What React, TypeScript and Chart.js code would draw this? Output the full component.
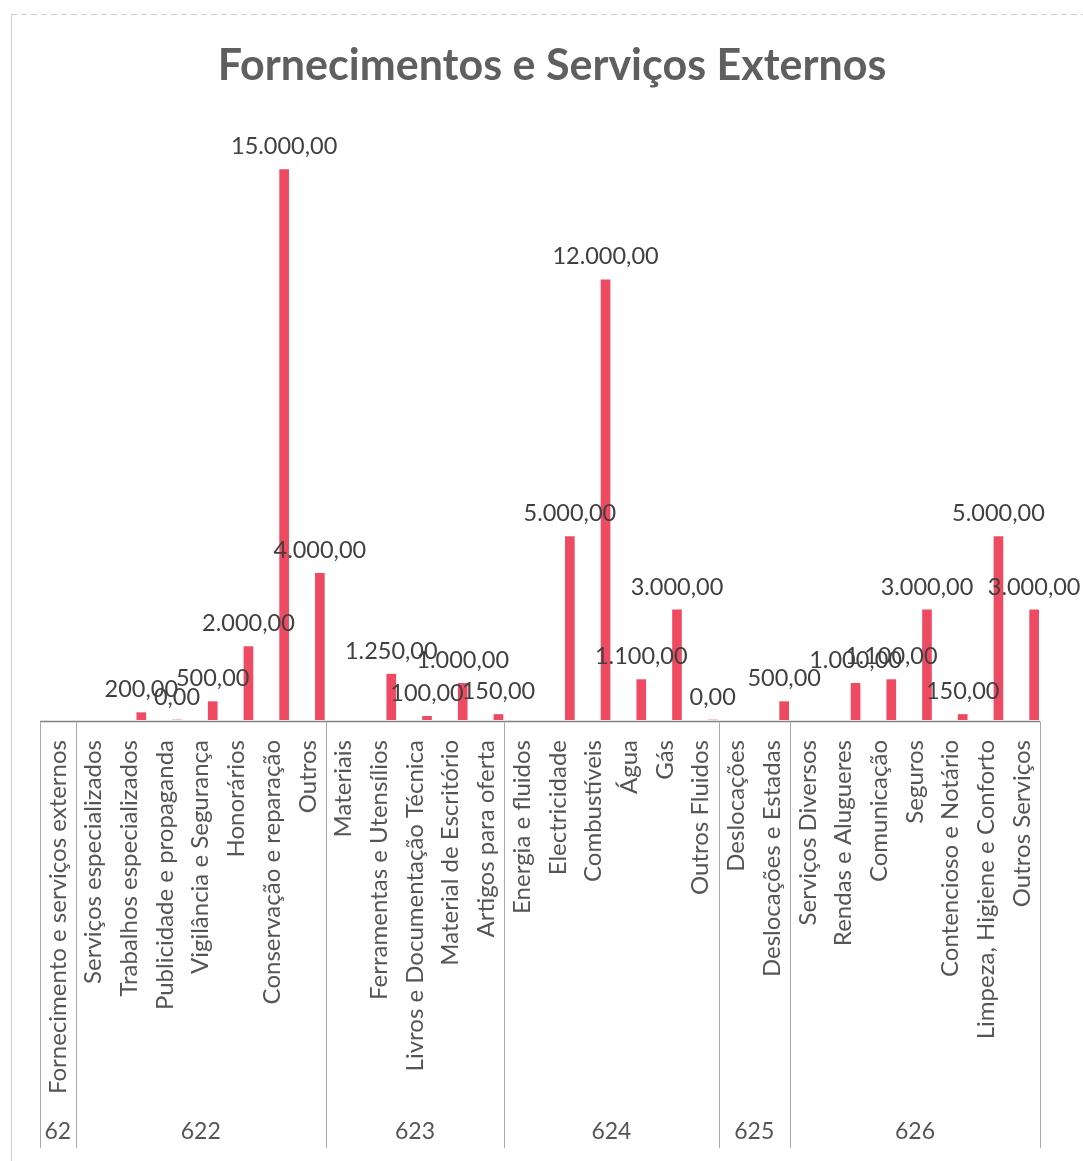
import React, { useEffect, useRef } from 'react';
import { Chart, registerables } from 'chart.js';

Chart.register(...registerables);

const categories = [
  'Fornecimento e serviços externos',
  'Serviços especializados',
  'Trabalhos especializados',
  'Publicidade e propaganda',
  'Vigilância e Segurança',
  'Honorários',
  'Conservação e reparação',
  'Outros',
  'Materiais',
  'Ferramentas e Utensílios',
  'Livros e Documentação Técnica',
  'Material de Escritório',
  'Artigos para oferta',
  'Energia e fluidos',
  'Electricidade',
  'Combustíveis',
  'Água',
  'Gás',
  'Outros Fluidos',
  'Deslocações',
  'Deslocações e Estadas',
  'Serviços Diversos',
  'Rendas e Alugueres',
  'Comunicação',
  'Seguros',
  'Contencioso e Notário',
  'Limpeza, Higiene e Conforto',
  'Outros Serviços',
];

const values: (number | null)[] = [
  null, null, 200, 0, 500, 2000, 15000, 4000,
  null, 1250, 100, 1000, 150,
  null, 5000, 12000, 1100, 3000, 0,
  null, 500,
  null, 1000, 1100, 3000, 150, 5000, 3000,
];

const groupLabels = ['62', '622', '623', '624', '625', '626'];
const groupSizes = [1, 7, 5, 6, 2, 7];

const titleText = 'Fornecimentos e Serviços Externos';

const FONT = 'Lato, "Open Sans", sans-serif';
const TEXT = '#555555';

function fmt(v: number): string {
  const [i, d] = v.toFixed(2).split('.');
  return i.replace(/\B(?=(\d{3})+(?!\d))/g, '.') + ',' + d;
}

const decorPlugin = {
  id: 'decor',
  beforeDraw(chart: any) {
    const ctx = chart.ctx;
    ctx.save();
    ctx.fillStyle = '#ffffff';
    ctx.fillRect(0, 0, chart.width, chart.height);
    ctx.strokeStyle = '#cfcfcf';
    ctx.lineWidth = 1;
    ctx.setLineDash([6, 4]);
    ctx.beginPath();
    ctx.moveTo(11, 14.5);
    ctx.lineTo(chart.width, 14.5);
    ctx.stroke();
    ctx.setLineDash([]);
    ctx.beginPath();
    ctx.moveTo(11.5, 14);
    ctx.lineTo(11.5, chart.height);
    ctx.stroke();
    ctx.restore();
  },
  afterDraw(chart: any) {
    const ctx = chart.ctx;
    const area = chart.chartArea;
    const xs = chart.scales.x;
    const off = -12;
    const w = xs.getPixelForValue(1) - xs.getPixelForValue(0);
    const leftEdge = xs.getPixelForValue(0) - w / 2 + off;
    const n = categories.length;
    const axisY = area.bottom + 1.5;
    const bottomY = 1148;

    ctx.save();
    // title
    ctx.fillStyle = '#5f5f5f';
    ctx.font = `bold 43px ${FONT}`;
    ctx.textAlign = 'center';
    ctx.textBaseline = 'middle';
    ctx.fillText(titleText, (area.left + area.right) / 2, 66);

    // axis line
    ctx.strokeStyle = '#808080';
    ctx.lineWidth = 1.5;
    ctx.beginPath();
    ctx.moveTo(leftEdge, axisY);
    ctx.lineTo(leftEdge + n * w, axisY);
    ctx.stroke();

    // group separators
    ctx.strokeStyle = '#a8a8a8';
    ctx.lineWidth = 1;
    let acc = 0;
    const bounds = [0];
    groupSizes.forEach((s) => {
      acc += s;
      bounds.push(acc);
    });
    bounds.forEach((b) => {
      const x = Math.round(leftEdge + b * w) + 0.5;
      ctx.beginPath();
      ctx.moveTo(x, axisY);
      ctx.lineTo(x, bottomY);
      ctx.stroke();
    });

    // category labels
    ctx.fillStyle = TEXT;
    ctx.font = `24px ${FONT}`;
    ctx.textAlign = 'right';
    ctx.textBaseline = 'middle';
    categories.forEach((c, i) => {
      const x = xs.getPixelForValue(i) + off;
      ctx.save();
      ctx.translate(x, area.bottom + 20);
      ctx.rotate(-Math.PI / 2);
      ctx.fillText(c, 0, 0);
      ctx.restore();
    });

    // group labels
    ctx.textAlign = 'center';
    ctx.font = `23px ${FONT}`;
    groupLabels.forEach((g, k) => {
      const x = leftEdge + ((bounds[k] + bounds[k + 1]) / 2) * w;
      ctx.fillText(g, x, 1132);
    });

    // data labels
    const meta = chart.getDatasetMeta(0);
    ctx.font = `23.5px ${FONT}`;
    ctx.fillStyle = '#404040';
    values.forEach((v, i) => {
      if (v === null) return;
      const el = meta.data[i];
      ctx.fillText(fmt(v), el.x, el.y - 23);
    });
    ctx.restore();
  },
};

export default function App() {
  const ref = useRef<HTMLCanvasElement>(null);
  useEffect(() => {
    if (!ref.current) return;
    const chart = new Chart(ref.current, {
      type: 'bar',
      data: {
        labels: categories,
        datasets: [
          {
            data: values as any,
            backgroundColor: '#ee4b63',
            barThickness: 9,
          },
        ],
      },
      options: {
        responsive: false,
        maintainAspectRatio: false,
        animation: false,
        layout: { padding: { left: 52, right: 31, top: 133, bottom: 441 } },
        scales: {
          x: { display: false },
          y: { display: false, min: 0, max: 16000 },
        },
        plugins: {
          legend: { display: false },
          tooltip: { enabled: false },
          title: { display: false },
        },
      },
      plugins: [decorPlugin],
    });
    return () => chart.destroy();
  }, []);
  return (
    <div style={{ position: 'absolute', left: 0, top: 0, width: 1083, height: 1161 }}>
      <canvas ref={ref} width={1083} height={1161} style={{ display: 'block' }} />
    </div>
  );
}
